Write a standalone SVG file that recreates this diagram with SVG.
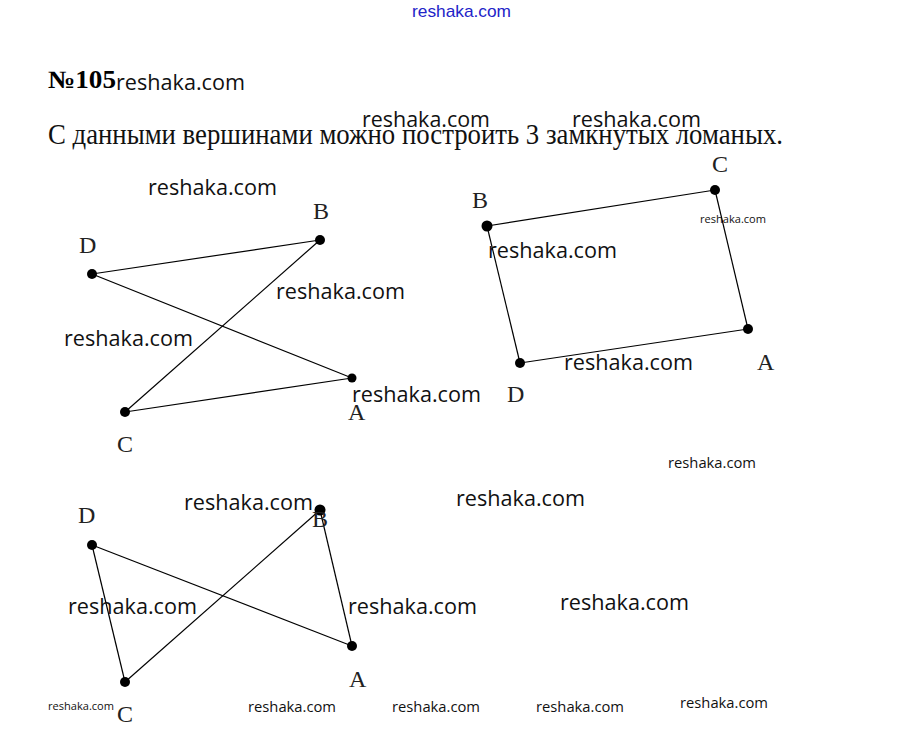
<svg xmlns="http://www.w3.org/2000/svg" width="921" height="753" viewBox="0 0 921 753">
<style>
.wm{font-family:"Open Sans","Noto Sans",sans-serif;fill:#111}
.big{font-size:21px}
.mid{font-size:14px}
.sm{font-size:10px}
.lbl{font-family:"Liberation Serif",serif;font-size:24px;fill:#222}
.edge{stroke:#000;stroke-width:1.2;fill:none}
.pt{fill:#000}
</style>
<rect width="921" height="753" fill="#fff"/>
<text x="412" y="17" font-family="Liberation Sans Narrow,Liberation Sans,sans-serif" font-size="17" fill="#2323c8" textLength="99" lengthAdjust="spacingAndGlyphs">reshaka.com</text>
<text x="48" y="88" font-family="Liberation Serif,serif" font-weight="bold" font-size="25" fill="#000" textLength="68" lengthAdjust="spacingAndGlyphs">№105</text>
<text x="48" y="144" font-family="Liberation Serif,serif" font-size="29" fill="#111" textLength="735" lengthAdjust="spacingAndGlyphs">С данными вершинами можно построить 3 замкнутых ломаных.</text>

<g id="connectors">
<line class="edge" x1="92" y1="274" x2="320" y2="240"/>
<line class="edge" x1="92" y1="274" x2="352" y2="378"/>
<line class="edge" x1="320" y1="240" x2="125" y2="412"/>
<line class="edge" x1="125" y1="412" x2="352" y2="378"/>
<line class="edge" x1="487" y1="226" x2="715" y2="190"/>
<line class="edge" x1="715" y1="190" x2="748" y2="329"/>
<line class="edge" x1="748" y1="329" x2="520" y2="363"/>
<line class="edge" x1="520" y1="363" x2="487" y2="226"/>
<line class="edge" x1="92" y1="545" x2="352" y2="646"/>
<line class="edge" x1="92" y1="545" x2="125" y2="682"/>
<line class="edge" x1="125" y1="682" x2="320" y2="510"/>
<line class="edge" x1="320" y1="510" x2="352" y2="646"/>
</g>

<g id="fig1">
<g id="f1-D"><circle class="pt" cx="92" cy="274" r="5"/><text class="lbl" x="79" y="253">D</text></g>
<g id="f1-B"><circle class="pt" cx="320" cy="240" r="5"/><text class="lbl" x="313" y="219">B</text></g>
<g id="f1-A"><circle class="pt" cx="352" cy="378" r="4.5"/><text class="lbl" x="348" y="420">A</text></g>
<g id="f1-C"><circle class="pt" cx="125" cy="412" r="5"/><text class="lbl" x="117" y="452">C</text></g>
</g>

<g id="fig2">
<g id="f2-B"><circle class="pt" cx="487" cy="226" r="5.5"/><text class="lbl" x="472" y="208">B</text></g>
<g id="f2-C"><circle class="pt" cx="715" cy="190" r="5"/><text class="lbl" x="712" y="172">C</text></g>
<g id="f2-A"><circle class="pt" cx="748" cy="329" r="5"/><text class="lbl" x="757" y="370">A</text></g>
<g id="f2-D"><circle class="pt" cx="520" cy="363" r="5"/><text class="lbl" x="507" y="402">D</text></g>
</g>

<g id="fig3">
<g id="f3-D"><circle class="pt" cx="92" cy="545" r="5"/><text class="lbl" x="78" y="523">D</text></g>
<g id="f3-B"><circle class="pt" cx="320" cy="510" r="5.5"/><text class="lbl" x="312" y="527">B</text></g>
<g id="f3-A"><circle class="pt" cx="352" cy="646" r="5"/><text class="lbl" x="349" y="687">A</text></g>
<g id="f3-C"><circle class="pt" cx="125" cy="682" r="5"/><text class="lbl" x="117" y="722">C</text></g>
</g>

<g id="watermarks">
<text class="wm big" x="116" y="90" textLength="129" lengthAdjust="spacingAndGlyphs">reshaka.com</text>
<text class="wm big" x="362" y="127" textLength="128" lengthAdjust="spacingAndGlyphs">reshaka.com</text>
<text class="wm big" x="572" y="127" textLength="129" lengthAdjust="spacingAndGlyphs">reshaka.com</text>
<text class="wm big" x="148" y="195" textLength="129" lengthAdjust="spacingAndGlyphs">reshaka.com</text>
<text class="wm big" x="276" y="299" textLength="129" lengthAdjust="spacingAndGlyphs">reshaka.com</text>
<text class="wm big" x="64" y="346" textLength="129" lengthAdjust="spacingAndGlyphs">reshaka.com</text>
<text class="wm big" x="352" y="402" textLength="129" lengthAdjust="spacingAndGlyphs">reshaka.com</text>
<text class="wm sm" x="700" y="223" textLength="66" lengthAdjust="spacingAndGlyphs">reshaka.com</text>
<text class="wm big" x="488" y="258" textLength="129" lengthAdjust="spacingAndGlyphs">reshaka.com</text>
<text class="wm big" x="564" y="370" textLength="129" lengthAdjust="spacingAndGlyphs">reshaka.com</text>
<text class="wm mid" x="668" y="468" textLength="88" lengthAdjust="spacingAndGlyphs">reshaka.com</text>
<text class="wm big" x="184" y="510" textLength="129" lengthAdjust="spacingAndGlyphs">reshaka.com</text>
<text class="wm big" x="456" y="506" textLength="129" lengthAdjust="spacingAndGlyphs">reshaka.com</text>
<text class="wm big" x="68" y="614" textLength="129" lengthAdjust="spacingAndGlyphs">reshaka.com</text>
<text class="wm big" x="348" y="614" textLength="129" lengthAdjust="spacingAndGlyphs">reshaka.com</text>
<text class="wm big" x="560" y="610" textLength="129" lengthAdjust="spacingAndGlyphs">reshaka.com</text>
<text class="wm sm" x="48" y="710" textLength="66" lengthAdjust="spacingAndGlyphs">reshaka.com</text>
<text class="wm mid" x="248" y="712" textLength="88" lengthAdjust="spacingAndGlyphs">reshaka.com</text>
<text class="wm mid" x="392" y="712" textLength="88" lengthAdjust="spacingAndGlyphs">reshaka.com</text>
<text class="wm mid" x="536" y="712" textLength="88" lengthAdjust="spacingAndGlyphs">reshaka.com</text>
<text class="wm mid" x="680" y="708" textLength="88" lengthAdjust="spacingAndGlyphs">reshaka.com</text>
</g>
</svg>
